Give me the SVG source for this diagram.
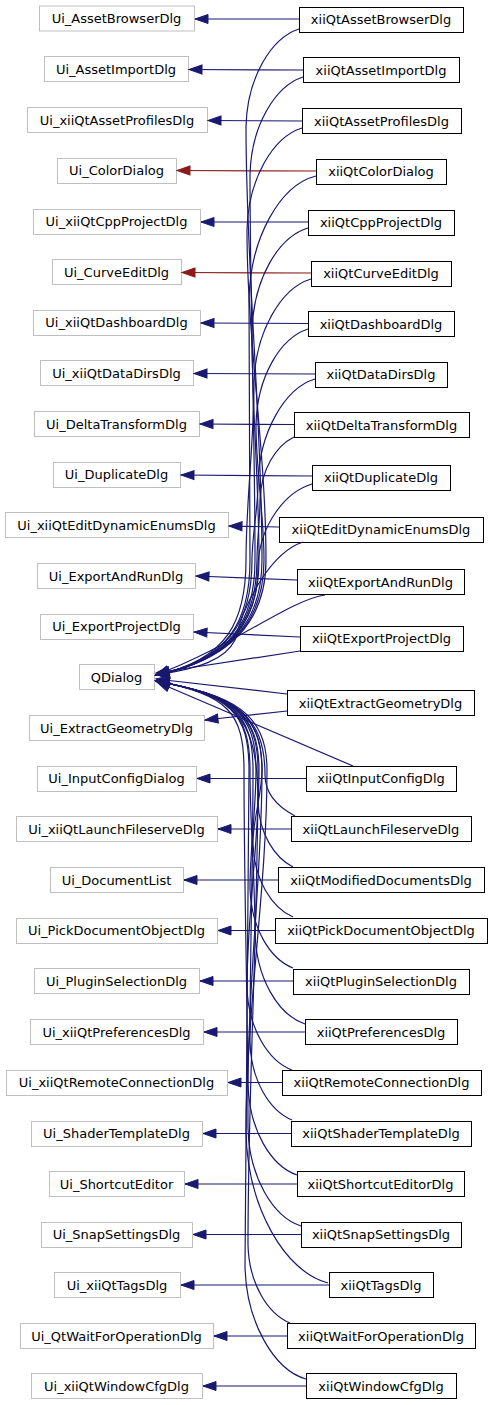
<svg xmlns="http://www.w3.org/2000/svg" width="492" height="1405" viewBox="0 0 492 1405">
<style>
.g rect{fill:#fff;stroke:#bfbfbf;stroke-width:1}
.k rect{fill:#fff;stroke:#000;stroke-width:1}
text{font-family:"DejaVu Sans",sans-serif;font-size:13px;text-anchor:middle;fill:#000}
.e path{fill:none;stroke:#191970;stroke-width:1.2;marker-end:url(#ab)}
.e path.r{stroke:#8b1a1a;marker-end:url(#ar)}
</style>
<defs>
<marker id="ab" markerUnits="userSpaceOnUse" markerWidth="16" markerHeight="12" refX="14" refY="5" orient="auto" overflow="visible"><path d="M1,0.5 L14,5 L1,9.5 Z" fill="#191970" stroke="#191970" stroke-width="1"/></marker>
<marker id="ar" markerUnits="userSpaceOnUse" markerWidth="16" markerHeight="12" refX="14" refY="5" orient="auto" overflow="visible"><path d="M1,0.5 L14,5 L1,9.5 Z" fill="#8b1a1a" stroke="#8b1a1a" stroke-width="1"/></marker>
</defs>
<rect width="492" height="1405" fill="#fff"/>
<g id="nodes">
<g id="Ui_AssetBrowserDlg" class="g"><rect x="39.5" y="6" width="155" height="25"/><text x="116.5" y="23">Ui_AssetBrowserDlg</text></g>
<g id="Ui_AssetImportDlg" class="g"><rect x="44.5" y="56.5" width="144" height="25"/><text x="116" y="73.5">Ui_AssetImportDlg</text></g>
<g id="Ui_xiiQtAssetProfilesDlg" class="g"><rect x="27.5" y="107.5" width="180" height="25"/><text x="117" y="124.5">Ui_xiiQtAssetProfilesDlg</text></g>
<g id="Ui_ColorDialog" class="g"><rect x="57.5" y="158.5" width="119" height="25"/><text x="116.5" y="175">Ui_ColorDialog</text></g>
<g id="Ui_xiiQtCppProjectDlg" class="g"><rect x="33.5" y="209.5" width="167" height="25"/><text x="116.5" y="226">Ui_xiiQtCppProjectDlg</text></g>
<g id="Ui_CurveEditDlg" class="g"><rect x="52.5" y="259.5" width="129" height="25"/><text x="116.5" y="276.5">Ui_CurveEditDlg</text></g>
<g id="Ui_xiiQtDashboardDlg" class="g"><rect x="33.5" y="310.5" width="167" height="25"/><text x="116.5" y="327">Ui_xiiQtDashboardDlg</text></g>
<g id="Ui_xiiQtDataDirsDlg" class="g"><rect x="40.5" y="360.5" width="153" height="25"/><text x="116.5" y="377.5">Ui_xiiQtDataDirsDlg</text></g>
<g id="Ui_DeltaTransformDlg" class="g"><rect x="34.5" y="411.5" width="165" height="25"/><text x="116.5" y="428.5">Ui_DeltaTransformDlg</text></g>
<g id="Ui_DuplicateDlg" class="g"><rect x="53.5" y="462.5" width="127" height="25"/><text x="116.5" y="479">Ui_DuplicateDlg</text></g>
<g id="Ui_xiiQtEditDynamicEnumsDlg" class="g"><rect x="5.5" y="512.5" width="223" height="25"/><text x="116.5" y="529.5">Ui_xiiQtEditDynamicEnumsDlg</text></g>
<g id="Ui_ExportAndRunDlg" class="g"><rect x="37.5" y="563.5" width="158" height="25"/><text x="116" y="580.5">Ui_ExportAndRunDlg</text></g>
<g id="Ui_ExportProjectDlg" class="g"><rect x="40.5" y="614.5" width="153" height="25"/><text x="116.5" y="631">Ui_ExportProjectDlg</text></g>
<g id="QDialog" class="g"><rect x="79.5" y="664.5" width="75" height="25"/><text x="116.5" y="681.5">QDialog</text></g>
<g id="Ui_ExtractGeometryDlg" class="g"><rect x="29.5" y="715.5" width="175" height="25"/><text x="116.5" y="732.5">Ui_ExtractGeometryDlg</text></g>
<g id="Ui_InputConfigDialog" class="g"><rect x="37.5" y="766.5" width="159" height="25"/><text x="116.5" y="783">Ui_InputConfigDialog</text></g>
<g id="Ui_xiiQtLaunchFileserveDlg" class="g"><rect x="16.5" y="816.5" width="201" height="25"/><text x="116.5" y="833.5">Ui_xiiQtLaunchFileserveDlg</text></g>
<g id="Ui_DocumentList" class="g"><rect x="50.5" y="867.5" width="133" height="25"/><text x="116.5" y="884.5">Ui_DocumentList</text></g>
<g id="Ui_PickDocumentObjectDlg" class="g"><rect x="16.5" y="918.5" width="201" height="25"/><text x="116.5" y="935">Ui_PickDocumentObjectDlg</text></g>
<g id="Ui_PluginSelectionDlg" class="g"><rect x="34.5" y="968.5" width="165" height="25"/><text x="116.5" y="985.5">Ui_PluginSelectionDlg</text></g>
<g id="Ui_xiiQtPreferencesDlg" class="g"><rect x="30.5" y="1019.5" width="173" height="25"/><text x="116.5" y="1036.5">Ui_xiiQtPreferencesDlg</text></g>
<g id="Ui_xiiQtRemoteConnectionDlg" class="g"><rect x="6.5" y="1070.5" width="221" height="25"/><text x="116.5" y="1087">Ui_xiiQtRemoteConnectionDlg</text></g>
<g id="Ui_ShaderTemplateDlg" class="g"><rect x="31.5" y="1121.5" width="171" height="25"/><text x="116.5" y="1138">Ui_ShaderTemplateDlg</text></g>
<g id="Ui_ShortcutEditor" class="g"><rect x="49.5" y="1171.5" width="135" height="25"/><text x="116.5" y="1188.5">Ui_ShortcutEditor</text></g>
<g id="Ui_SnapSettingsDlg" class="g"><rect x="41.5" y="1222.5" width="151" height="25"/><text x="116.5" y="1239">Ui_SnapSettingsDlg</text></g>
<g id="Ui_xiiQtTagsDlg" class="g"><rect x="54.5" y="1272.5" width="126" height="25"/><text x="117" y="1289.5">Ui_xiiQtTagsDlg</text></g>
<g id="Ui_QtWaitForOperationDlg" class="g"><rect x="20.5" y="1323.5" width="193" height="25"/><text x="116.5" y="1340.5">Ui_QtWaitForOperationDlg</text></g>
<g id="Ui_xiiQtWindowCfgDlg" class="g"><rect x="31.5" y="1373.5" width="171" height="25"/><text x="116.5" y="1390.5">Ui_xiiQtWindowCfgDlg</text></g>

<g id="xiiQtAssetBrowserDlg" class="k"><rect x="299.5" y="7.5" width="164" height="25"/><text x="381" y="24">xiiQtAssetBrowserDlg</text></g>
<g id="xiiQtAssetImportDlg" class="k"><rect x="303.5" y="57.5" width="156" height="25"/><text x="381" y="74.5">xiiQtAssetImportDlg</text></g>
<g id="xiiQtAssetProfilesDlg" class="k"><rect x="302.5" y="108.5" width="159" height="25"/><text x="381.5" y="125.5">xiiQtAssetProfilesDlg</text></g>
<g id="xiiQtColorDialog" class="k"><rect x="316.5" y="159.5" width="130" height="25"/><text x="381" y="176">xiiQtColorDialog</text></g>
<g id="xiiQtCppProjectDlg" class="k"><rect x="308.5" y="210.5" width="146" height="25"/><text x="381" y="227">xiiQtCppProjectDlg</text></g>
<g id="xiiQtCurveEditDlg" class="k"><rect x="311.5" y="261.5" width="140" height="25"/><text x="381" y="278">xiiQtCurveEditDlg</text></g>
<g id="xiiQtDashboardDlg" class="k"><rect x="308.5" y="311.5" width="146" height="25"/><text x="381" y="328.5">xiiQtDashboardDlg</text></g>
<g id="xiiQtDataDirsDlg" class="k"><rect x="315.5" y="362.5" width="132" height="25"/><text x="381" y="379">xiiQtDataDirsDlg</text></g>
<g id="xiiQtDeltaTransformDlg" class="k"><rect x="294.5" y="412.5" width="175" height="25"/><text x="381.5" y="429.5">xiiQtDeltaTransformDlg</text></g>
<g id="xiiQtDuplicateDlg" class="k"><rect x="312.5" y="465.5" width="138" height="25"/><text x="381" y="482">xiiQtDuplicateDlg</text></g>
<g id="xiiQtEditDynamicEnumsDlg" class="k"><rect x="279.5" y="517.5" width="204" height="25"/><text x="381" y="534">xiiQtEditDynamicEnumsDlg</text></g>
<g id="xiiQtExportAndRunDlg" class="k"><rect x="297.5" y="569.5" width="167" height="25"/><text x="380.5" y="586.5">xiiQtExportAndRunDlg</text></g>
<g id="xiiQtExportProjectDlg" class="k"><rect x="300.5" y="626.5" width="163" height="25"/><text x="381.5" y="643">xiiQtExportProjectDlg</text></g>
<g id="xiiQtExtractGeometryDlg" class="k"><rect x="287.5" y="690.5" width="187" height="25"/><text x="380.5" y="707.5">xiiQtExtractGeometryDlg</text></g>
<g id="xiiQtInputConfigDlg" class="k"><rect x="306.5" y="766.5" width="150" height="25"/><text x="381" y="783">xiiQtInputConfigDlg</text></g>
<g id="xiiQtLaunchFileserveDlg" class="k"><rect x="291.5" y="816.5" width="180" height="25"/><text x="381" y="833.5">xiiQtLaunchFileserveDlg</text></g>
<g id="xiiQtModifiedDocumentsDlg" class="k"><rect x="278.5" y="867.5" width="206" height="25"/><text x="381" y="884.5">xiiQtModifiedDocumentsDlg</text></g>
<g id="xiiQtPickDocumentObjectDlg" class="k"><rect x="275.5" y="918.5" width="212" height="25"/><text x="381" y="935">xiiQtPickDocumentObjectDlg</text></g>
<g id="xiiQtPluginSelectionDlg" class="k"><rect x="293.5" y="969.5" width="176" height="25"/><text x="381" y="986">xiiQtPluginSelectionDlg</text></g>
<g id="xiiQtPreferencesDlg" class="k"><rect x="305.5" y="1019.5" width="152" height="25"/><text x="381" y="1036.5">xiiQtPreferencesDlg</text></g>
<g id="xiiQtRemoteConnectionDlg" class="k"><rect x="282.5" y="1070.5" width="199" height="25"/><text x="381.5" y="1087">xiiQtRemoteConnectionDlg</text></g>
<g id="xiiQtShaderTemplateDlg" class="k"><rect x="291.5" y="1121.5" width="180" height="25"/><text x="381" y="1138">xiiQtShaderTemplateDlg</text></g>
<g id="xiiQtShortcutEditorDlg" class="k"><rect x="297.5" y="1171.5" width="167" height="25"/><text x="380.5" y="1188.5">xiiQtShortcutEditorDlg</text></g>
<g id="xiiQtSnapSettingsDlg" class="k"><rect x="301.5" y="1222.5" width="160" height="25"/><text x="381" y="1239">xiiQtSnapSettingsDlg</text></g>
<g id="xiiQtTagsDlg" class="k"><rect x="329.5" y="1272.5" width="104" height="25"/><text x="381" y="1289.5">xiiQtTagsDlg</text></g>
<g id="xiiQtWaitForOperationDlg" class="k"><rect x="287.5" y="1323.5" width="188" height="25"/><text x="381" y="1340.5">xiiQtWaitForOperationDlg</text></g>
<g id="xiiQtWindowCfgDlg" class="k"><rect x="306.5" y="1373.5" width="150" height="25"/><text x="381" y="1390.5">xiiQtWindowCfgDlg</text></g>
</g>

<g id="connectors" class="e">
<path d="M299,19 L195,19"/>
<path d="M303,70 L189,69.5"/>
<path d="M302,121 L208,120.5"/>
<path class="r" d="M316,171 L177,170.5"/>
<path d="M308,222 L201,222"/>
<path class="r" d="M311,273 L182,272.5"/>
<path d="M308,323.5 L201,323"/>
<path d="M315,374 L194,373.5"/>
<path d="M294,424.5 L200,424"/>
<path d="M312,476 L181,475"/>
<path d="M279,527 L229,526"/>
<path d="M297,580 L196,576"/>
<path d="M300,637 L194,632"/>
<path d="M287,711 L205,720"/>
<path d="M306,778.5 L197,778.5"/>
<path d="M291,829 L218,829"/>
<path d="M278,880 L184,880"/>
<path d="M275,930.5 L218,930.5"/>
<path d="M293,981 L200,981"/>
<path d="M305,1032 L204,1032"/>
<path d="M282,1082.5 L228,1082.5"/>
<path d="M291,1133.5 L203,1133.5"/>
<path d="M297,1184 L185,1184"/>
<path d="M301,1234.5 L193,1234.5"/>
<path d="M329,1285 L181,1285"/>
<path d="M287,1336 L214,1336"/>
<path d="M306,1386 L203,1386"/>

<path d="M299,29 C271,38 247,78 246,127 C246,271 262,416 262,560 C262,620 232,660 156,675"/>
<path d="M303,77 C275,86 251,126 250,175 C250,303 255,432 255,560 C255,620 232,660 156,675"/>
<path d="M302,128 C273,137 248,179 247,230 C247,340 266,450 266,560 C266,620 232,660 156,675"/>
<path d="M316,176 C280,185 250,238 249,300 C249,387 250,473 250,560 C250,620 230,660 156,675"/>
<path d="M308,228 C278,237 253,280 252,332 C252,408 259,484 259,560 C259,620 232,660 156,675"/>
<path d="M311,279 C281,288 255,332 254,384 C254,443 246,501 246,560 C246,620 228,660 156,675"/>
<path d="M308,329 C280,338 257,377 256,425 C256,470 264,515 264,560 C264,620 232,660 156,675"/>
<path d="M315,379 C285,388 259,432 258,484 C258,509 252,535 252,560 C252,620 230,660 156,675"/>
<path d="M294,437 C276,446 261,469 260,500 C260,520 257,540 257,560 C257,620 232,660 156,675"/>
<path d="M312,484 C285,492 260,525 258,565 C258,620 232,660 156,675"/>
<path d="M303,542 C272,552 245,600 235,640 C225,660 200,668 156,675"/>
<path d="M325,595 C290,600 235,645 156,675"/>
<path d="M300,651 L156,673"/>
<path d="M287,694 L156,679"/>
<path d="M353,766 L157,682"/>
<path d="M295,816 C280,808 265,795 265,775 C265,712 232,695 156,681"/>
<path d="M293,867 C275,858 259,834 258,802 C258,712 232,695 156,681"/>
<path d="M293,917 C272,908 254,880 253,843 C253,819 262,794 262,770 C262,712 232,695 156,681"/>
<path d="M293,968 C270,959 251,928 250,888 C250,849 256,809 256,770 C256,712 232,695 156,681"/>
<path d="M305,1024 C278,1015 256,978 255,932 C255,878 250,824 250,770 C250,712 230,695 156,681"/>
<path d="M292,1070 C268,1061 248,1028 247,987 C247,915 259,842 259,770 C259,712 232,695 156,681"/>
<path d="M292,1120 C270,1111 251,1081 250,1042 C250,951 253,861 253,770 C253,712 232,695 156,681"/>
<path d="M297,1175 C271,1166 249,1130 248,1084 C248,979 262,875 262,770 C262,712 232,695 156,681"/>
<path d="M301,1226 C273,1217 249,1177 248,1128 C248,1009 244,889 244,770 C244,712 228,695 156,681"/>
<path d="M328,1283 C285,1272 247,1207 246,1131 C246,1011 267,890 267,770 C267,712 232,695 156,681"/>
<path d="M290,1323 C268,1314 249,1284 248,1245 C248,1087 258,928 258,770 C258,712 232,695 156,681"/>
<path d="M306,1379 C274,1370 246,1322 245,1266 C245,1101 249,935 249,770 C249,712 230,695 156,681"/>
</g>
</svg>
